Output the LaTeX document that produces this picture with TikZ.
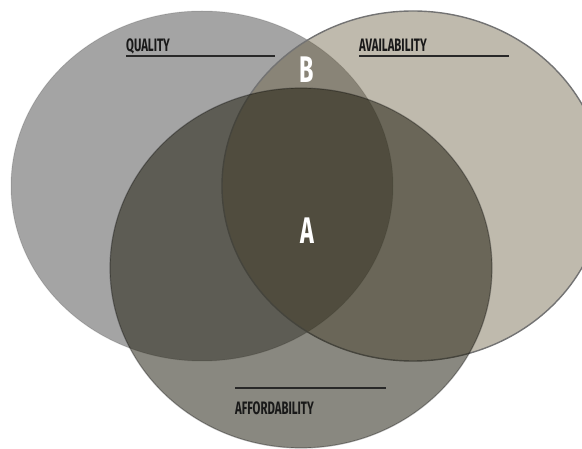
\documentclass[tikz,border=0pt]{standalone}
\usepackage{fontspec}
\newfontfamily\condfont[FakeStretch=0.63]{Fira Sans}
\usepackage{tikz}
\definecolor{qualitycolor}{RGB}{164, 164, 164}
\definecolor{availcolor}{RGB}{102, 90, 59}
\definecolor{affordcolor}{RGB}{28, 26, 11}
\definecolor{rulecolor}{RGB}{40, 40, 40}

\begin{document}
\begin{tikzpicture}[
    x=1pt, y=-1pt,
    setname/.style={font=\condfont\bfseries\fontsize{18}{18}\selectfont, text=black!90, inner sep=0pt},
    region/.style={font=\condfont\bfseries\fontsize{37}{37}\selectfont, text=white, inner sep=0pt},
    rule/.style={draw=rulecolor, line width=1.8pt}
]
    \useasboundingbox (0, 0) rectangle (582, 449);
    \clip (0, 0) rectangle (582, 449);

    % Quality set
    \fill[qualitycolor] (202, 186) ellipse [x radius=191, y radius=175];
    \draw[black, draw opacity=0.12, line width=1pt] (202, 186) ellipse [x radius=191, y radius=175];

    % Availability set
    \filldraw[fill=availcolor, fill opacity=0.42, draw=gray!90!black, line width=1.4pt]
        (413, 186) ellipse [x radius=191, y radius=175];

    % Affordability set
    \filldraw[fill=affordcolor, fill opacity=0.52, draw=black, draw opacity=0.3, line width=1.2pt]
        (301, 268) ellipse [x radius=191, y radius=180];

    % Set names
    \node[setname, anchor=base west] (quality) at (126, 52) {QUALITY};
    \draw[rule] ([yshift=-4pt]quality.base west) -- +(149, 0);

    \node[setname, anchor=base west] (avail) at (359, 52) {AVAILABILITY};
    \draw[rule] ([yshift=-4pt]avail.base west) -- +(150, 0);

    \node[setname, anchor=base west] (afford) at (235, 415) {AFFORDABILITY};
    \draw[rule] ([yshift=27pt]afford.base west) -- +(151, 0);

    % Regions
    \node[region] (regionB) at (307, 70) {B};
    \node[region] (regionA) at (307, 231) {A};

\end{tikzpicture}
\end{document}
